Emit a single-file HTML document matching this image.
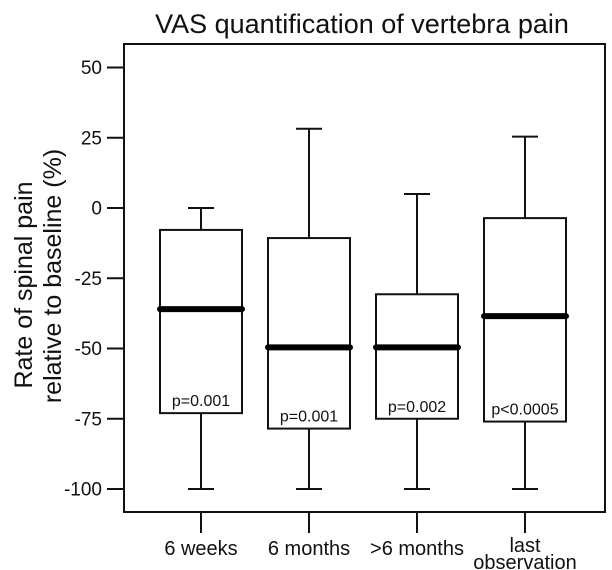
<!DOCTYPE html>
<html><head><meta charset="utf-8"><style>
html,body{margin:0;padding:0;background:#fff;}
svg{display:block;font-family:"Liberation Sans",Arial,sans-serif;}
</style></head><body>
<svg id="chart" width="612" height="570" viewBox="0 0 612 570">
<text x="362" y="33" font-size="27" text-anchor="middle" fill="#111">VAS quantification of vertebra pain</text>
<g font-size="25" fill="#111" text-anchor="middle">
<text transform="translate(32,285) rotate(-90)">Rate of spinal pain</text>
<text transform="translate(61,276) rotate(-90)">relative to baseline (%)</text>
</g>
<rect x="124" y="44" width="481" height="468" fill="none" stroke="#111" stroke-width="2"/>
<g id="yaxis"></g>
<g id="xaxis"></g>
<g id="boxes"></g>
</svg>
<script>
const categories = ["6 weeks", "6 months", ">6 months", "last|observation"];
const whiskerLow = [-100, -100, -100, -100];
const q1Values = [-73, -78.5, -75, -76];
const medianValues = [-36, -49.6, -49.6, -38.5];
const q3Values = [-7.8, -10.7, -30.7, -3.6];
const whiskerHigh = [0, 28.2, 5, 25.4];
const pLabels = ["p=0.001", "p=0.001", "p=0.002", "p<0.0005"];
const yTicks = [50, 25, 0, -25, -50, -75, -100];

const NS = "http://www.w3.org/2000/svg";
function y(v){ return 208 - v * 2.81; }
function x(i){ return 201 + 108 * i; }
function mk(tag, attrs, parent){
  const e = document.createElementNS(NS, tag);
  for (const k in attrs) e.setAttribute(k, attrs[k]);
  parent.appendChild(e); return e;
}
const ya = document.getElementById("yaxis");
yTicks.forEach(t => {
  const l = mk("line", {x1:107, x2:124, y1:y(t), y2:y(t), stroke:"#111", "stroke-width":2}, ya);
  
  
  const tx = mk("text", {x:102, y:y(t)+6.5, "font-size":19, "text-anchor":"end", fill:"#111"}, ya);
  tx.textContent = t;
  
  
});
const xa = document.getElementById("xaxis");
categories.forEach((c, i) => {
  const l = mk("line", {x1:x(i), x2:x(i), y1:512, y2:533, stroke:"#111", "stroke-width":2}, xa);
  
  
  const parts = c.split("|");
  const tx = mk("text", {x:x(i), y: parts.length > 1 ? 552 : 555, "font-size":20, "text-anchor":"middle", fill:"#111"}, xa);
  
  
  parts.forEach((p, j) => {
    const ts = mk("tspan", {x:x(i), dy: j ? 17 : 0}, tx);
    ts.textContent = p;
  });
});
const bg = document.getElementById("boxes");
categories.forEach((c, i) => {
  const g = mk("g", {}, bg);
  
  
  const cx = x(i), hw = 41, cap = 13;
  const s = {stroke:"#111", "stroke-width":2, fill:"none"};
  mk("line", Object.assign({x1:cx, x2:cx, y1:y(whiskerHigh[i]), y2:y(q3Values[i])}, s), g);
  mk("line", Object.assign({x1:cx-cap, x2:cx+cap, y1:y(whiskerHigh[i]), y2:y(whiskerHigh[i])}, s), g);
  mk("line", Object.assign({x1:cx, x2:cx, y1:y(q1Values[i]), y2:y(whiskerLow[i])}, s), g);
  mk("line", Object.assign({x1:cx-cap, x2:cx+cap, y1:y(whiskerLow[i]), y2:y(whiskerLow[i])}, s), g);
  mk("rect", Object.assign({x:cx-hw, y:y(q3Values[i]), width:hw*2, height:y(q1Values[i])-y(q3Values[i]), fill:"#fff"}, {stroke:"#111","stroke-width":2}), g);
  mk("line", {x1:cx-hw, x2:cx+hw, y1:y(medianValues[i]), y2:y(medianValues[i]), stroke:"#000", "stroke-width":6, "stroke-linecap":"round"}, g);
  const pt = mk("text", {x:cx, y:y(q1Values[i]) - 7, "font-size":16, "text-anchor":"middle", fill:"#111"}, g);
  pt.textContent = pLabels[i];
  
  
});
</script>
</body></html>
